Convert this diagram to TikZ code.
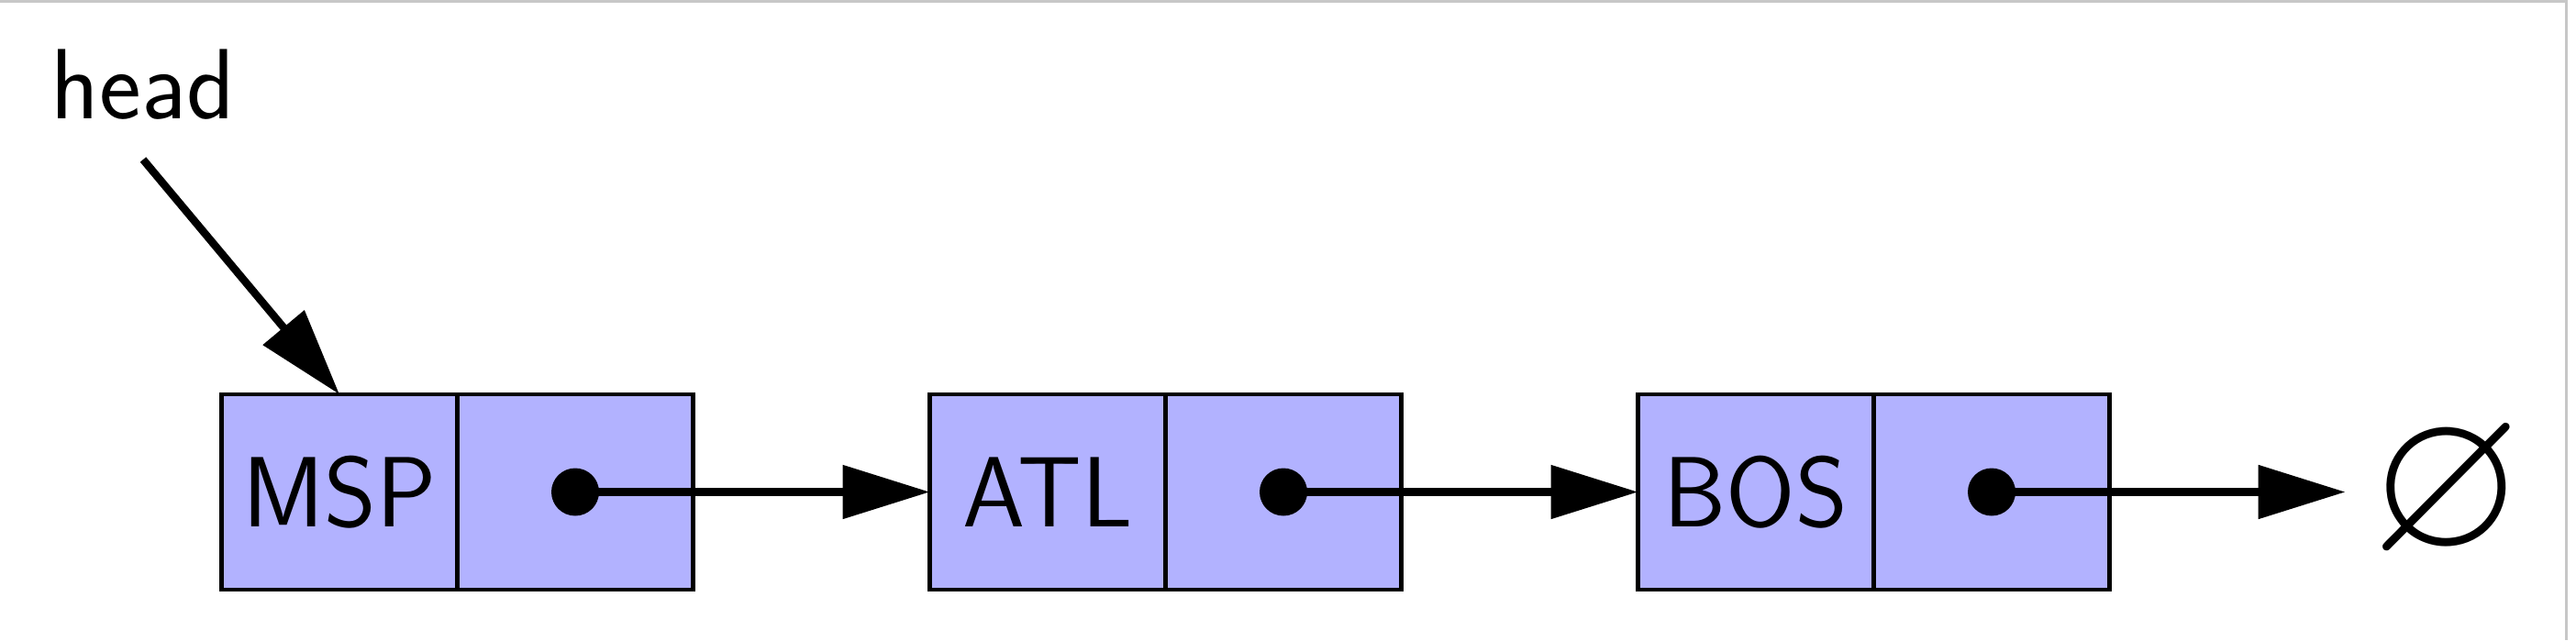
\documentclass[tikz,border=0pt]{standalone}
\usepackage{amssymb}
\usetikzlibrary{arrows.meta}
\begin{document}
\begin{tikzpicture}[x=1cm,y=1cm,
  cell/.style={draw, line width=1.4pt, fill=blue!30, minimum width=2.57cm, minimum height=2.13cm, inner sep=0pt, outer sep=0pt, font=\fontsize{31}{37}\selectfont\sffamily},
  link/.style={line width=2.4pt, -{Triangle[length=0.95cm,width=0.57cm]}},
  ptrdot/.style={circle, fill=black, inner sep=0pt, minimum size=0.52cm},
  lbl/.style={font=\fontsize{31}{37}\selectfont\sffamily}]
\useasboundingbox (0,0) rectangle (28.08,-6.98);
\draw[black!22, line width=0.03cm] (0,-0.015) -- (27.97,-0.015) -- (27.97,-6.98);
% list cells
\node[cell] (d1) at (3.70,-5.365) {MSP};
\node[cell] (p1) at (6.27,-5.365) {};
\node[cell] (d2) at (11.42,-5.365) {ATL};
\node[cell] (p2) at (13.99,-5.365) {};
\node[cell] (d3) at (19.14,-5.365) {BOS};
\node[cell] (p3) at (21.71,-5.365) {};
% pointer dots
\node[ptrdot] (c1) at (p1.center) {};
\node[ptrdot] (c2) at (p2.center) {};
\node[ptrdot] (c3) at (p3.center) {};
% null
\node[inner sep=0pt, outer sep=0pt, rotate=4, font=\fontsize{63}{68}\selectfont] (null) at (26.675,-5.40) {$\varnothing$};
% head
\node[lbl, anchor=south, inner sep=0.43cm] (head) at (1.56,-1.74) {head};
% connectors
\draw[link] (head.south) -- (d1.north);
\draw[link] (c1.center) -- (d2.west);
\draw[link] (c2.center) -- (d3.west);
\draw[link] (c3.center) -- ([xshift=-0.25cm]c3.center -| null.west);
\end{tikzpicture}
\end{document}
